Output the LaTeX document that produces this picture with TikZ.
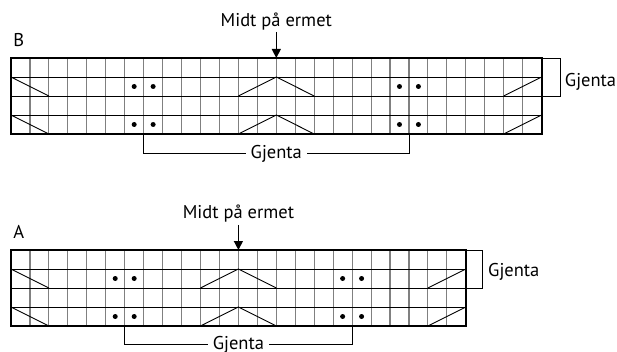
\documentclass[tikz,border=0pt]{standalone}
\usepackage{fontspec}
\setmainfont{PT Sans}
\usepackage{tikz}
\usetikzlibrary{arrows.meta,positioning}

\tikzset{
	frame/.style={line width=2pt},
	vline/.style={line width=1.1pt, gray},
	hline/.style={line width=0.9pt},
	stitch/.style={line width=0.9pt},
	bracket/.style={line width=0.9pt},
	lbl/.style={inner sep=0pt, font=\fontsize{18.5}{22}\selectfont},
	pin/.style={line width=1.3pt, -{Triangle[width=9pt,length=9pt]}},
	dot/.style={fill=black},
}

\begin{document}
\begin{tikzpicture}[x=1pt,y=-1pt]
	\useasboundingbox (0,0) rectangle (617,352);

	% --- chart B (28 masker) ---
	\begin{scope}[shift={(11pt,-58pt)}, x=18.95pt, y=-19pt]
		\foreach \i in {1,...,27} \draw[vline] (\i,0) -- (\i,4);
		\foreach \j in {1,2,3} \draw[hline] (0,\j) -- (28,\j);
		\foreach \r in {1,3} {
			\draw[stitch] (0,\r) -- (2,\r+1);
			\draw[stitch] (12,\r+1) -- (14,\r) -- (16,\r+1);
			\draw[stitch] (26,\r+1) -- (28,\r);
			\foreach \c in {6.5,7.5,20.5,21.5}
				\fill[dot] (\c,\r+0.5) circle (2.5pt);
		}
		\draw[frame] (0,0) rectangle (28,4);

		\node[lbl, anchor=base west] (labB) at (0.12,-0.6) {B};
		\node[lbl, anchor=base] (midtB) at (14,-1.65) {Midt på ermet};
		\coordinate (topB) at (14,0);
		\draw[pin] (midtB.south |- 0,-1.38) -- (topB);

		\draw[bracket] (7,4) -- (7,5) -- (21,5)
			node[lbl, midway, fill=white, inner xsep=5pt, anchor=base, yshift=-6pt] (repB) {Gjenta}
			-- (21,4);
		\draw[bracket] (28,0) -- (29,0) -- (29,2) -- (28,2);
		\node[lbl, anchor=base west] (sideB) at (29.22,1.5) {Gjenta};
	\end{scope}

	% --- chart A (24 masker) ---
	\begin{scope}[shift={(11pt,-250pt)}, x=18.95pt, y=-19pt]
		\foreach \i in {1,...,23} \draw[vline] (\i,0) -- (\i,4);
		\foreach \j in {1,2,3} \draw[hline] (0,\j) -- (24,\j);
		\foreach \r in {1,3} {
			\draw[stitch] (0,\r) -- (2,\r+1);
			\draw[stitch] (10,\r+1) -- (12,\r) -- (14,\r+1);
			\draw[stitch] (22,\r+1) -- (24,\r);
			\foreach \c in {5.5,6.5,17.5,18.5}
				\fill[dot] (\c,\r+0.5) circle (2.5pt);
		}
		\draw[frame] (0,0) rectangle (24,4);

		\node[lbl, anchor=base west] (labA) at (0.12,-0.63) {A};
		\node[lbl, anchor=base] (midtA) at (12,-1.67) {Midt på ermet};
		\coordinate (topA) at (12,0);
		\draw[pin] (midtA.south |- 0,-1.32) -- (topA);

		\draw[bracket] (6,4) -- (6,4.95) -- (18,4.95)
			node[lbl, midway, fill=white, inner xsep=5pt, anchor=base, yshift=-5.5pt] (repA) {Gjenta}
			-- (18,4);
		\draw[bracket] (24,0) -- (24.88,0) -- (24.88,2) -- (24,2);
		\node[lbl, anchor=base west] (sideA) at (25.17,1.4) {Gjenta};
	\end{scope}
\end{tikzpicture}
\end{document}
